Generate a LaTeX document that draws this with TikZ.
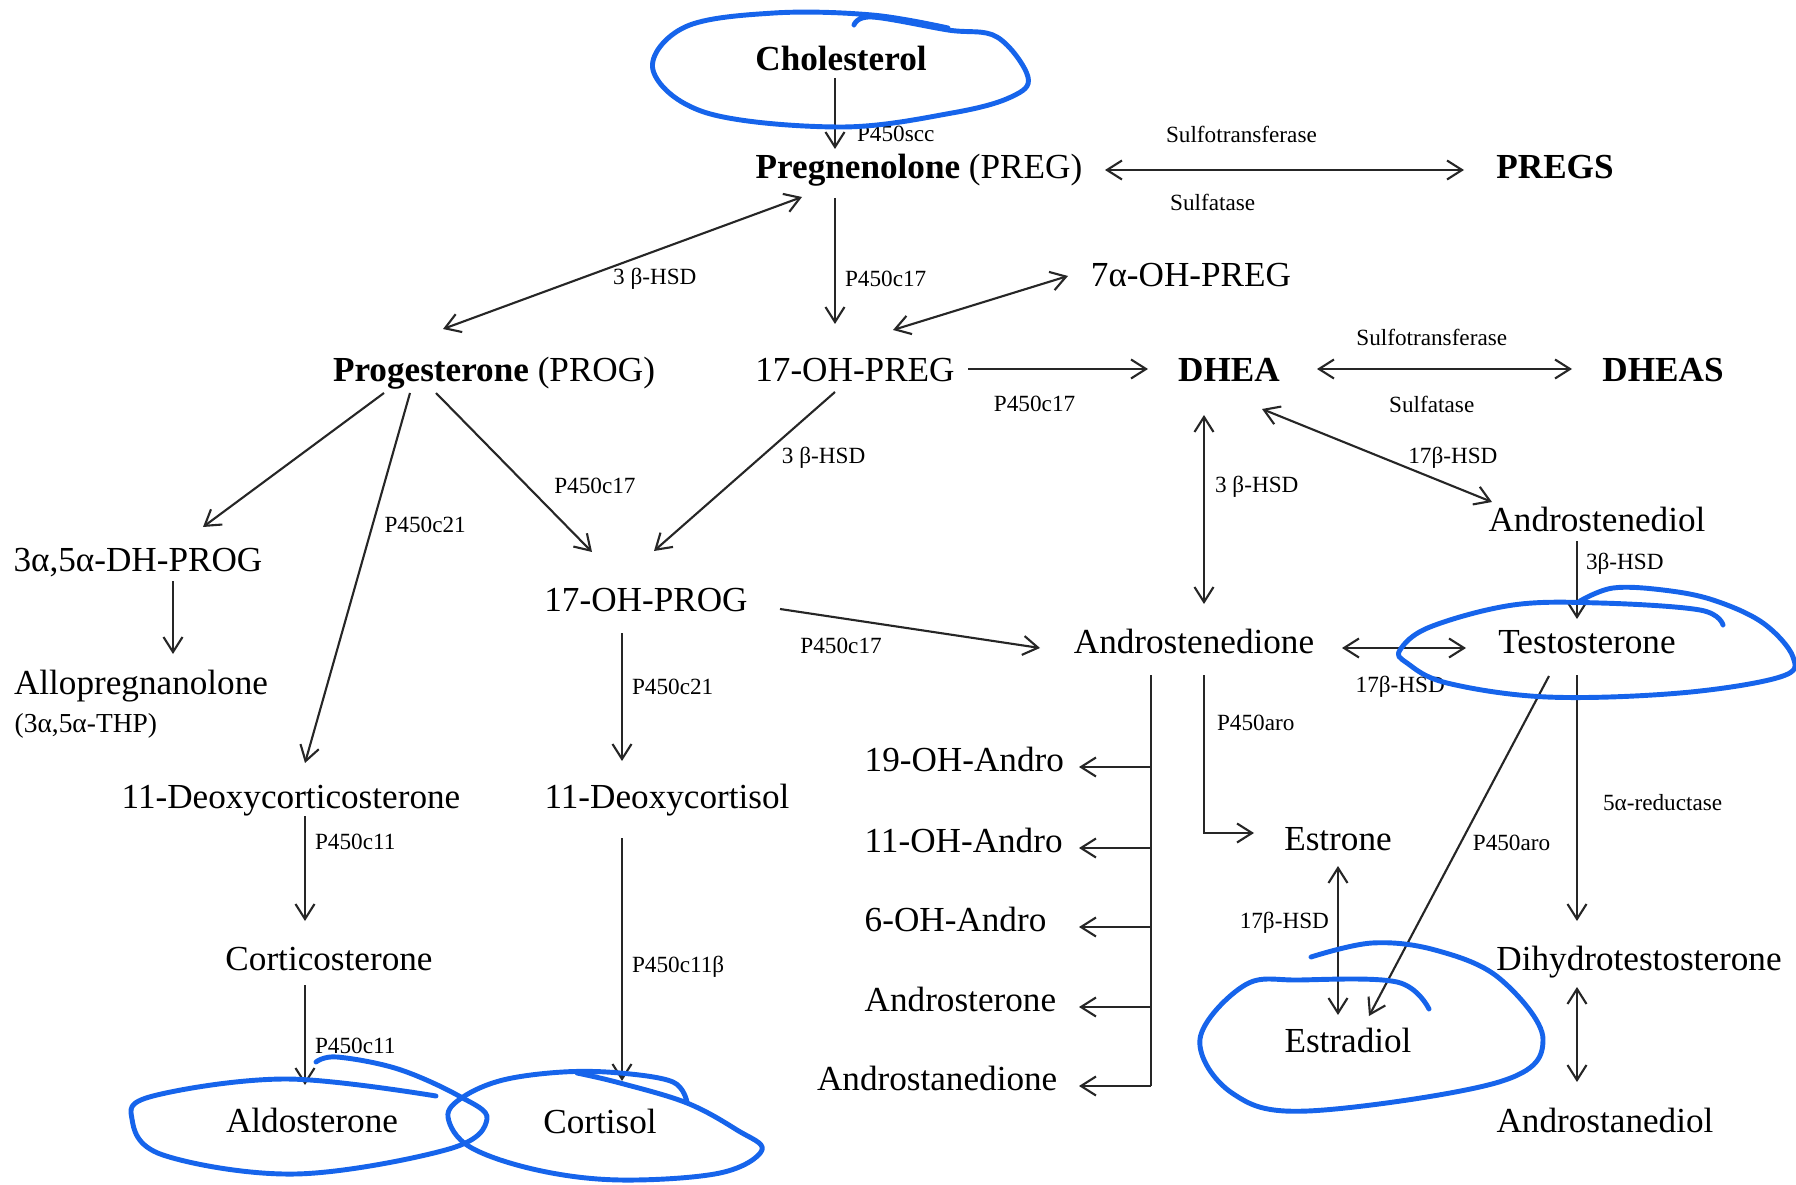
\documentclass[tikz,border=0pt]{standalone}
\usepackage{fontspec}
\setmainfont{Liberation Serif}
\usetikzlibrary{calc,arrows.meta}
\definecolor{handblue}{RGB}{22,100,235}

\tikzset{
  cmp/.style={inner sep=0pt, text height=1.5ex, text depth=.25ex, font=\fontsize{10}{12}\selectfont},
  keycmp/.style={cmp, font=\fontsize{10}{12}\selectfont\bfseries},
  enz/.style={inner sep=0pt, font=\fontsize{6.6}{8}\selectfont},
  rx/.style={-{Straight Barb[length=1.5mm,width=1.9mm]}, line width=.6pt, draw=black!85},
  rxx/.style={{Straight Barb[length=1.5mm,width=1.9mm]}-{Straight Barb[length=1.5mm,width=1.9mm]}, line width=.6pt, draw=black!85},
  ring/.style={draw=handblue, line width=1.4pt, line cap=round, line join=round}
}

\begin{document}
\begin{tikzpicture}[x=0.01cm, y=-0.01cm]
				\useasboundingbox (0,0) rectangle (1796,1185);
				
				% compounds
				\node[keycmp] (chol) at (841,60) {Cholesterol};
				\node[cmp] (preg) at (919,168) {\textbf{Pregnenolone} (PREG)};
				\node[keycmp] (pregs) at (1555,168) {PREGS};
				\node[cmp] (ohpregs) at (1191,276) {7α-OH-PREG};
				\node[cmp] (prog) at (494,371) {\textbf{Progesterone} (PROG)};
				\node[cmp] (ohpreg) at (855,371) {17-OH-PREG};
				\node[keycmp] (dhea) at (1229,371) {DHEA};
				\node[keycmp] (dheas) at (1663,371) {DHEAS};
				\node[cmp] (dhprog) at (138,561) {3α,5α-DH-PROG};
				\node[cmp] (adiol) at (1597,521) {Androstenediol};
				\node[cmp] (ohprog) at (646,601) {17-OH-PROG};
				\node[cmp] (adione) at (1194,643) {Androstenedione};
				\node[cmp] (testo) at (1587,643) {Testosterone};
				\node[cmp] (allo) at (141,684) {Allopregnanolone};
				\node[cmp, anchor=west, font=\fontsize{7.8}{9}\selectfont] (thp) at (14,722) {(3α,5α-THP)};
				\node[cmp] (doc) at (291,798) {11-Deoxycorticosterone};
				\node[cmp] (dcort) at (667,798) {11-Deoxycortisol};
				\node[cmp, anchor=west] (oh19) at (864,761) {19-OH-Andro};
				\node[cmp, anchor=west] (oh11) at (864,842) {11-OH-Andro};
				\node[cmp, anchor=west] (oh6) at (864,921) {6-OH-Andro};
				\node[cmp, anchor=west] (aster) at (864,1001) {Androsterone};
				\node[cmp, anchor=east] (astane) at (1058,1080) {Androstanedione};
				\node[cmp] (estrone) at (1338,840) {Estrone};
				\node[cmp] (estradiol) at (1348,1042) {Estradiol};
				\node[cmp] (dht) at (1639,960) {Dihydrotestosterone};
				\node[cmp] (andiol) at (1605,1122) {Androstanediol};
				\node[cmp] (cortico) at (329,960) {Corticosterone};
				\node[cmp] (aldo) at (312,1122) {Aldosterone};
				\node[cmp] (cortisol) at (600,1123) {Cortisol};
				
				% top
				\draw[rx] ($(chol)+(-6,18)$) -- ($(preg)+(-84,-19)$) node[enz, pos=.79, anchor=west, xshift=2.1mm] {P450scc};
				\draw[rxx] ($(preg)+(186,2)$) -- ($(pregs)+(-91,2)$)
					node[enz, pos=.38, yshift=3.6mm] {Sulfotransferase}
					node[enz, pos=.30, yshift=-3.2mm] {Sulfatase};
				\draw[rxx] ($(preg)+(-117,29)$) -- ($(prog)+(-51,-42)$) node[enz, pos=.41, yshift=-2.8mm] {3 β-HSD};
				\draw[rx] ($(preg)+(-84,30)$) -- ($(ohpreg)+(-20,-47)$) node[enz, pos=.64, anchor=west, xshift=.9mm] {P450c17};
				\draw[rxx] ($(ohpreg)+(38,-41)$) -- ($(ohpregs)+(-123,0)$);
				\draw[rx] ($(ohpreg)+(113,-2)$) -- ($(dhea)+(-81,-2)$) node[enz, pos=.37, yshift=-3.5mm] {P450c17};
				\draw[rxx] ($(dhea)+(88,-2)$) -- ($(dheas)+(-91,-2)$)
					node[enz, pos=.45, yshift=3.2mm] {Sulfotransferase}
					node[enz, pos=.45, yshift=-3.5mm] {Sulfatase};
				
				% androgens
				\draw[rxx] ($(dhea)+(-25,44)$) -- ($(adione)+(10,-39)$) node[enz, pos=.38, anchor=west, xshift=1mm] {3 β-HSD};
				\draw[rxx] ($(dhea)+(33,38)$) -- ($(adiol)+(-105,-19)$) node[enz, pos=.83, yshift=2.8mm] {17β-HSD};
				\draw[rx] ($(adiol)+(-20,20)$) -- ($(testo)+(-10,-24)$) node[enz, pos=.29, anchor=west, xshift=.8mm] {3β-HSD};
				\draw[rxx] ($(adione)+(148,5)$) -- ($(testo)+(-121,5)$) node[enz, pos=.47, yshift=-3.9mm] {17β-HSD};
				\draw[rx] ($(adione)+(10,32)$) |- ($(estrone)+(-84,-7)$) node[enz, pos=.15, anchor=west, xshift=1.2mm] {P450aro};
				\draw[rxx] ($(estrone)+(0,26)$) -- ($(estradiol)+(-10,-27)$) node[enz, pos=.38, anchor=east, xshift=-.8mm] {17β-HSD};
				\draw[rx] ($(testo)+(-38,33)$) -- ($(estradiol)+(21,-26)$) node[enz, pos=.49, anchor=west, xshift=1.1mm] {P450aro};
				\draw[rx] ($(testo)+(-10,32)$) -- ($(dht)+(-62,-39)$) node[enz, pos=.52, anchor=west, xshift=2.5mm] {5α-reductase};
				\draw[rxx] ($(dht)+(-62,27)$) -- ($(andiol)+(-28,-40)$);
				
				\coordinate (trunk) at ($(adione)+(-43,32)$);
				\draw[line width=.6pt, draw=black!85] (trunk) -- ($(trunk |- astane)+(0,6)$);
				\foreach \tgt in {oh19,oh11,oh6,aster,astane}
					\draw[rx] ($(trunk |- \tgt)+(0,6)$) -- ++(-72,0);
				
				% progestins, corticoids
				\draw[rx] ($(prog)+(-110,22)$) -- ($(dhprog)+(65,-34)$);
				\draw[rx] ($(dhprog)+(35,20)$) -- ($(allo)+(32,-30)$);
				\draw[rx] ($(prog)+(-84,22)$) -- ($(doc)+(14,-35)$) node[enz, pos=.357, anchor=west, xshift=1.1mm] {P450c21};
				\draw[rx] ($(prog)+(-58,22)$) -- ($(ohprog)+(-54,-49)$) node[enz, pos=.585, anchor=west, xshift=2.6mm] {P450c17};
				\draw[rx] ($(ohpreg)+(-20,21)$) -- ($(ohprog)+(8,-50)$) node[enz, pos=.415, anchor=west, xshift=2.1mm] {3 β-HSD};
				\draw[rx] ($(ohprog)+(134,8)$) -- ($(adione)+(-154,5)$) node[enz, pos=.235, yshift=-2.8mm] {P450c17};
				\draw[rx] ($(ohprog)+(-24,32)$) -- ($(dcort)+(-45,-37)$) node[enz, pos=.42, anchor=west, xshift=.9mm] {P450c21};
				\draw[rx] ($(doc)+(14,18)$) -- ($(cortico)+(-24,-39)$) node[enz, pos=.25, anchor=west, xshift=.9mm] {P450c11};
				\draw[rx] ($(cortico)+(-24,25)$) -- ($(aldo)+(-7,-37)$) node[enz, pos=.61, anchor=west, xshift=.9mm] {P450c11};
				\draw[rx] ($(dcort)+(-45,40)$) -- ($(cortisol)+(22,-42)$) node[enz, pos=.53, anchor=west, xshift=.9mm] {P450c11β};
				
				% hand marks
				\draw[ring] plot[smooth, tension=.6] coordinates {(854,25) (872,17) (948,30) (997,37) (1028,77) (1011,97) (952,113) (841,127) (707,113) (653,70) (685,27) (774,13) (872,15) (948,28)};
				\draw[ring] plot[smooth, tension=.6] coordinates {(1580,601) (1613,588) (1663,590) (1713,600) (1763,623) (1793,657) (1780,677) (1680,693) (1547,697) (1447,683) (1407,663) (1400,650) (1430,627) (1513,605) (1600,603) (1700,610) (1723,625)};
				\draw[ring] plot[smooth, tension=.6] coordinates {(1311,957) (1372,943) (1435,950) (1499,978) (1543,1039) (1499,1082) (1308,1111) (1232,1093) (1200,1039) (1245,985) (1300,980) (1397,982) (1429,1009)};
				\draw[ring] plot[smooth, tension=.6] coordinates {(436,1096) (286,1079) (153,1096) (132,1119) (163,1155) (296,1174) (449,1149) (487,1119) (459,1096) (398,1069) (337,1057) (316,1062)};
				\draw[ring] plot[smooth, tension=.6] coordinates {(687,1102) (673,1082) (620,1073) (563,1072) (503,1080) (463,1097) (448,1117) (470,1147) (537,1170) (620,1180) (720,1173) (762,1150) (737,1130) (687,1103) (620,1083) (577,1073)};
\end{tikzpicture}
\end{document}
